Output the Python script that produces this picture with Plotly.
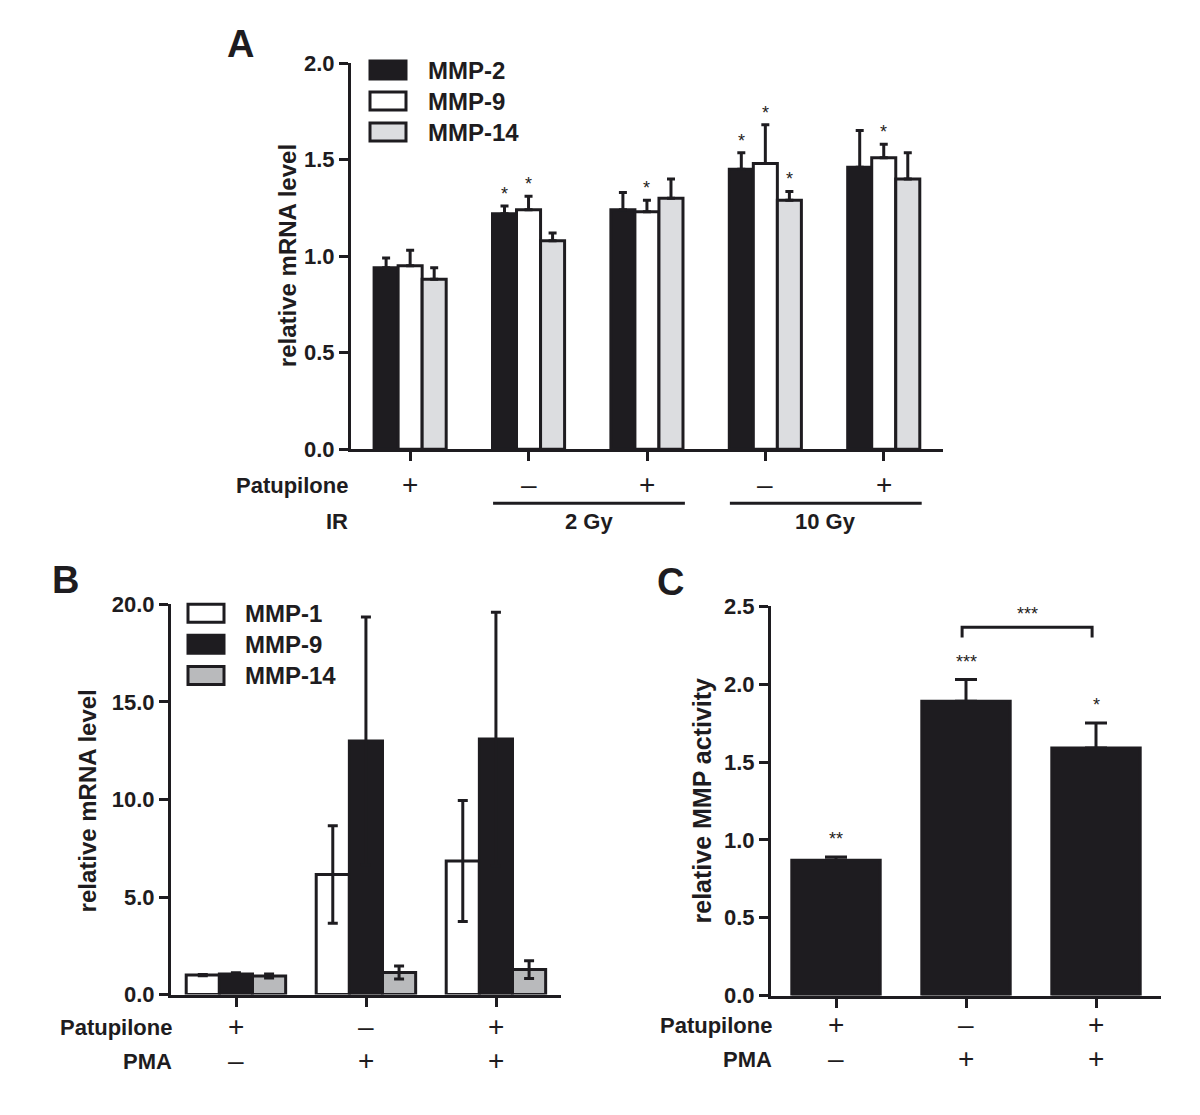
import plotly.graph_objects as go

W, H = 1200, 1115
FONT = "Liberation Sans, Arial, sans-serif"
BLACK = "#1e1c20"
GRAY_A = "#dcdde0"
GRAY_B = "#b9babc"

# ---------------- data ----------------
# Panel A
groups_A = [0, 1, 2, 3, 4]
patupilone_A = ["+", "–", "+", "–", "+"]
mmp2_A = [0.94, 1.22, 1.24, 1.45, 1.46]
mmp2_A_err = [0.05, 0.04, 0.09, 0.085, 0.19]
mmp9_A = [0.95, 1.24, 1.23, 1.48, 1.51]
mmp9_A_err = [0.08, 0.07, 0.06, 0.20, 0.07]
mmp14_A = [0.88, 1.08, 1.30, 1.29, 1.40]
mmp14_A_err = [0.06, 0.04, 0.10, 0.045, 0.135]
# significance stars in A: (group, series index)
stars_A = [(1, 0), (1, 1), (2, 1), (3, 0), (3, 1), (3, 2), (4, 1)]
ir_labels = ["2 Gy", "10 Gy"]
yticks_A = [0.0, 0.5, 1.0, 1.5, 2.0]

# Panel B
groups_B = [0, 1, 2]
patupilone_B = ["+", "–", "+"]
pma_B = ["–", "+", "+"]
mmp1_B = [1.0, 6.15, 6.85]
mmp1_B_err = [0.03, 2.5, 3.1]
mmp9_B = [1.05, 13.0, 13.1]
mmp9_B_err = [0.07, 6.35, 6.5]
mmp14_B = [0.95, 1.13, 1.28]
mmp14_B_err = [0.10, 0.33, 0.45]
yticks_B = [0.0, 5.0, 10.0, 15.0, 20.0]

# Panel C
groups_C = [0, 1, 2]
activity_C = [0.87, 1.89, 1.59]
activity_C_err = [0.02, 0.14, 0.16]
stars_C = ["**", "***", "*"]
bracket_C = (1, 2, "***")
yticks_C = [0.0, 0.5, 1.0, 1.5, 2.0, 2.5]


def X(x):
    return x - 5


def Y(y):
    return (y - 20) / 0.977


def px(x):
    return X(x) / W


def py(y):
    return 1 - Y(y) / H


fig = go.Figure()

# ---------------- Panel A bars ----------------
wA = 0.203
offA = [-0.305, -0.102, 0.101]
seriesA = [
    ("MMP-2", mmp2_A, mmp2_A_err, BLACK),
    ("MMP-9", mmp9_A, mmp9_A_err, "white"),
    ("MMP-14", mmp14_A, mmp14_A_err, GRAY_A),
]
for i, (name, vals, err, col) in enumerate(seriesA):
    fig.add_trace(go.Bar(
        x=groups_A, y=vals, name=name, width=wA, offset=offA[i],
        marker=dict(color=col, line=dict(color=BLACK, width=3)),
        error_y=dict(type="data", array=err, arrayminus=[0] * len(err), symmetric=False,
                     color=BLACK, thickness=3, width=4),
        xaxis="x", yaxis="y", showlegend=False))

# ---------------- Panel B bars ----------------
wB = 0.255
offB = [-0.383, -0.128, 0.127]
seriesB = [
    ("MMP-1", mmp1_B, mmp1_B_err, "white"),
    ("MMP-9", mmp9_B, mmp9_B_err, BLACK),
    ("MMP-14", mmp14_B, mmp14_B_err, GRAY_B),
]
for i, (name, vals, err, col) in enumerate(seriesB):
    fig.add_trace(go.Bar(
        x=groups_B, y=vals, name=name, width=wB, offset=offB[i],
        marker=dict(color=col, line=dict(color=BLACK, width=3)),
        error_y=dict(type="data", array=err, symmetric=True,
                     color=BLACK, thickness=3, width=5),
        xaxis="x2", yaxis="y2", showlegend=False))

# ---------------- Panel C bars ----------------
wC = 0.68
fig.add_trace(go.Bar(
    x=groups_C, y=activity_C, width=wC, offset=-wC / 2,
    marker=dict(color=BLACK, line=dict(color=BLACK, width=3)),
    error_y=dict(type="data", array=activity_C_err, arrayminus=[0] * 3, symmetric=False,
                 color=BLACK, thickness=3, width=11),
    xaxis="x3", yaxis="y3", showlegend=False))

axis_common = dict(showline=True, linecolor=BLACK, linewidth=3, showgrid=False, zeroline=False,
                   ticks="outside", tickcolor=BLACK, tickwidth=3, ticklen=9)
tickfont = dict(family=FONT, size=22, color=BLACK, weight="bold")

fig.update_layout(
    width=W, height=H, margin=dict(l=0, r=0, t=0, b=0),
    paper_bgcolor="white", plot_bgcolor="white", barmode="overlay",
    xaxis=dict(domain=[px(348), px(940)], range=[-0.5, 4.5], tickvals=groups_A,
               showticklabels=False, anchor="y", **axis_common),
    yaxis=dict(domain=[py(449), py(63)], range=[0, 2.0], tickvals=yticks_A, tickformat=".1f",
               tickfont=tickfont, anchor="x", **axis_common),
    xaxis2=dict(domain=[px(168), px(558)], range=[-0.5, 2.5], tickvals=groups_B,
                showticklabels=False, anchor="y2", **axis_common),
    yaxis2=dict(domain=[py(994), py(604)], range=[0, 20.0], tickvals=yticks_B, tickformat=".1f",
                tickfont=tickfont, anchor="x2", **axis_common),
    xaxis3=dict(domain=[px(768), px(1158)], range=[-0.5, 2.5], tickvals=groups_C,
                showticklabels=False, anchor="y3", **axis_common),
    yaxis3=dict(domain=[py(995), py(606)], range=[0, 2.5], tickvals=yticks_C, tickformat=".1f",
                tickfont=tickfont, anchor="x3", **axis_common),
)

ann = []
shapes = []


def text(x, y, s, size=22, bold=True, xanchor="center", yanchor="middle", xref="paper",
         yref="paper", angle=0, yshift=0):
    ann.append(dict(x=x, y=y, text=s, xref=xref, yref=yref, showarrow=False,
                    xanchor=xanchor, yanchor=yanchor, textangle=angle, yshift=yshift,
                    font=dict(family=FONT, size=size, color=BLACK,
                              weight="bold" if bold else "normal")))


# panel letters
text(px(237), py(44), "A", size=38)
text(px(62), py(580), "B", size=38)
text(px(667), py(582), "C", size=38)

# axis titles
text(px(284), py(256), "relative mRNA level", size=24, angle=-90)
text(px(84), py(800), "relative mRNA level", size=24, angle=-90)
text(px(699), py(800), "relative MMP activity", size=25, angle=-90)

# legends
legA = [("MMP-2", BLACK), ("MMP-9", "white"), ("MMP-14", GRAY_A)]
for i, (name, col) in enumerate(legA):
    yc = 70 + i * 31
    shapes.append(dict(type="rect", xref="paper", yref="paper", x0=px(367), x1=px(403),
                       y0=py(yc - 9), y1=py(yc + 9), fillcolor=col,
                       line=dict(color=BLACK, width=3)))
    text(px(423), py(yc), name, size=24, xanchor="left")
legB = [("MMP-1", "white"), ("MMP-9", BLACK), ("MMP-14", GRAY_B)]
for i, (name, col) in enumerate(legB):
    yc = 613 + i * 31
    shapes.append(dict(type="rect", xref="paper", yref="paper", x0=px(185), x1=px(221),
                       y0=py(yc - 9), y1=py(yc + 9), fillcolor=col,
                       line=dict(color=BLACK, width=3)))
    text(px(240), py(yc), name, size=24, xanchor="left")

# stars in A
seriesA_vals = [(mmp2_A, mmp2_A_err), (mmp9_A, mmp9_A_err), (mmp14_A, mmp14_A_err)]
for g, s in stars_A:
    v, e = seriesA_vals[s]
    text(groups_A[g] + offA[s] + wA / 2, v[g] + e[g], "*", size=18, bold=False,
         xref="x", yref="y", yanchor="bottom", yshift=0)

# stars in C
for g in groups_C:
    text(g, activity_C[g] + activity_C_err[g], stars_C[g], size=18, bold=False,
         xref="x3", yref="y3", yanchor="bottom", yshift=6)
g1, g2, lab = bracket_C
bx0, bx1 = g1 - 0.03, g2 - 0.03
shapes.append(dict(type="path", xref="x3", yref="y3",
                   path=f"M {bx0} 2.30 L {bx0} 2.365 L {bx1} 2.365 L {bx1} 2.30",
                   line=dict(color=BLACK, width=3)))
text((bx0 + bx1) / 2, 2.45, lab, size=18, bold=False, xref="x3", yref="y3")

# condition labels A
text(px(347), py(485), "Patupilone", size=22, xanchor="right")
text(px(347), py(521), "IR", size=22, xanchor="right")
for g, s in zip(groups_A, patupilone_A):
    text(g, py(484), s, size=28, bold=False, xref="x")
shapes.append(dict(type="line", xref="x", yref="paper", x0=0.7, x1=2.32, y0=py(503), y1=py(503),
                   line=dict(color=BLACK, width=3)))
shapes.append(dict(type="line", xref="x", yref="paper", x0=2.7, x1=4.32, y0=py(503), y1=py(503),
                   line=dict(color=BLACK, width=3)))
text(1.51, py(521), ir_labels[0], size=22, xref="x")
text(3.51, py(521), ir_labels[1], size=22, xref="x")

# condition labels B
text(px(171), py(1027), "Patupilone", size=22, xanchor="right")
text(px(171), py(1061), "PMA", size=22, xanchor="right")
for g in groups_B:
    text(g, py(1026), patupilone_B[g], size=28, bold=False, xref="x2")
    text(g, py(1060), pma_B[g], size=28, bold=False, xref="x2")

# condition labels C
text(px(771), py(1025), "Patupilone", size=22, xanchor="right")
text(px(771), py(1059), "PMA", size=22, xanchor="right")
for g in groups_C:
    text(g, py(1024), patupilone_B[g], size=28, bold=False, xref="x3")
    text(g, py(1058), pma_B[g], size=28, bold=False, xref="x3")

fig.update_layout(annotations=ann, shapes=shapes)
fig.write_html("out.html")
